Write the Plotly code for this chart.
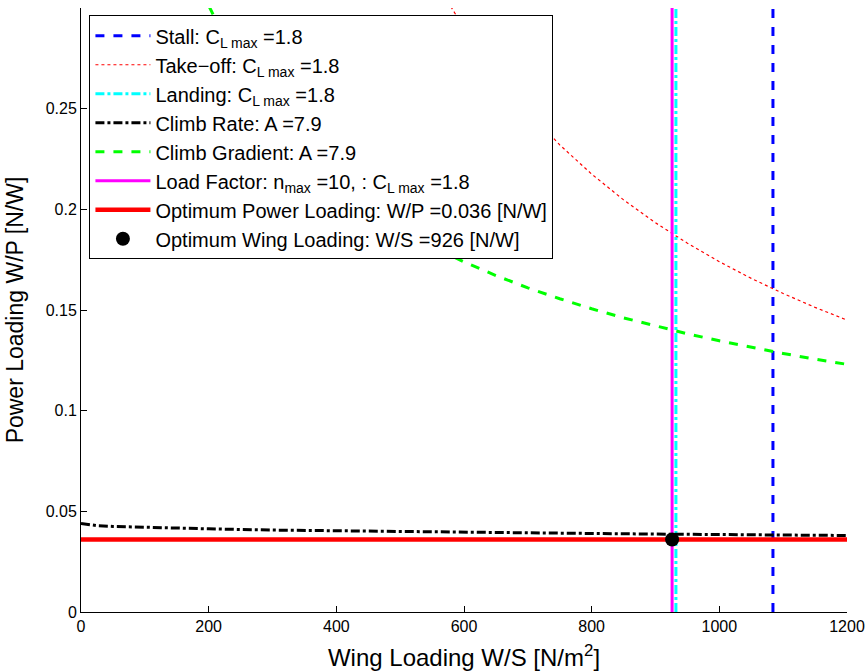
import plotly.graph_objects as go

# Data
ws_stall = 1084
ws_landing = 932
ws_loadfactor = 926
wp_opt = 0.036
ws_opt = 926
y_span = [0, 0.3]

takeoff_x = [550, 582, 600, 650, 700, 750, 800, 850, 900, 950, 1000, 1050, 1100, 1150, 1200]
takeoff_y = [0.316, 0.299, 0.290, 0.268, 0.249, 0.232, 0.2175, 0.2047, 0.1933, 0.1832, 0.174, 0.1657, 0.1582, 0.1513, 0.145]

climbgrad_x = [180, 200, 250, 300, 350, 400, 450, 500, 550, 600, 650, 700, 750, 800, 850, 900, 950, 1000, 1050, 1100, 1150, 1200]
climbgrad_y = [0.3175, 0.3012, 0.2694, 0.246, 0.2277, 0.213, 0.2008, 0.1905, 0.1816, 0.1739, 0.1671, 0.161, 0.1556, 0.1506, 0.1461, 0.142, 0.1382, 0.1347, 0.1315, 0.1284, 0.1256, 0.123]

climbrate_x = [0, 25, 50, 100, 200, 300, 400, 500, 600, 700, 800, 900, 1000, 1100, 1200]
climbrate_y = [0.0440, 0.0429, 0.0425, 0.0420, 0.0413, 0.0407, 0.0403, 0.0399, 0.0396, 0.0393, 0.0390, 0.0387, 0.0385, 0.0382, 0.0380]

opt_x = [0, 1200]

x_ticks = [0, 200, 400, 600, 800, 1000, 1200]
y_ticks = [0, 0.05, 0.1, 0.15, 0.2, 0.25]
y_tick_text = ["0", "0.05", "0.1", "0.15", "0.2", "0.25"]

FONT = "Liberation Sans, Arial, Helvetica, sans-serif"

fig = go.Figure()

fig.add_trace(go.Scatter(x=[ws_stall, ws_stall], y=y_span, mode="lines",
                         line=dict(color="#0000ff", width=3, dash="dash"),
                         name="Stall: C<sub>L max</sub> =1.8", legendrank=1))
fig.add_trace(go.Scatter(x=takeoff_x, y=takeoff_y, mode="lines",
                         line=dict(color="#ff0000", width=1.2, dash="dot"),
                         name="Take\u2212off: C<sub>L max</sub> =1.8", legendrank=2))
fig.add_trace(go.Scatter(x=[ws_landing, ws_landing], y=y_span, mode="lines",
                         line=dict(color="#00ffff", width=3, dash="dashdot"),
                         name="Landing: C<sub>L max</sub> =1.8", legendrank=3))
fig.add_trace(go.Scatter(x=climbrate_x, y=climbrate_y, mode="lines",
                         line=dict(color="#000000", width=3, dash="dashdot"),
                         name="Climb Rate: A =7.9", legendrank=4))
fig.add_trace(go.Scatter(x=climbgrad_x, y=climbgrad_y, mode="lines",
                         line=dict(color="#00ff00", width=3, dash="dash"),
                         name="Climb Gradient: A =7.9", legendrank=5))
fig.add_trace(go.Scatter(x=[ws_loadfactor, ws_loadfactor], y=y_span, mode="lines",
                         line=dict(color="#ff00ff", width=3),
                         name="Load Factor: n<sub>max</sub> =10, : C<sub>L max</sub> =1.8", legendrank=6))
fig.add_trace(go.Scatter(x=opt_x, y=[wp_opt, wp_opt], mode="lines",
                         line=dict(color="#ff0000", width=4.5),
                         name="Optimum Power Loading: W/P =0.036 [N/W]", legendrank=7))
fig.add_trace(go.Scatter(x=[ws_opt], y=[wp_opt], mode="markers",
                         marker=dict(color="#000000", size=14),
                         name="Optimum Wing Loading: W/S =926 [N/W]", legendrank=8))

fig.update_layout(
    width=865, height=671,
    margin=dict(l=81, r=18, t=8, b=59),
    paper_bgcolor="white", plot_bgcolor="white",
    font=dict(family=FONT, color="black", size=16),
    showlegend=True,
    legend=dict(x=0.011, y=0.988, xanchor="left", yanchor="top",
                bgcolor="white", bordercolor="black", borderwidth=1,
                font=dict(size=20, family=FONT), itemwidth=55,
                tracegroupgap=0),
)
fig.update_xaxes(range=[0, 1200], tickvals=x_ticks, automargin=False,
                 showline=True, linecolor="black", linewidth=1, mirror=False,
                 ticks="inside", ticklen=6, tickcolor="black", showgrid=False, zeroline=False,
                 tickfont=dict(size=16),
                 title=dict(text="Wing Loading W/S [N/m<sup>2</sup>]", font=dict(size=24)))
fig.update_yaxes(range=[0, 0.3], tickvals=y_ticks, ticktext=y_tick_text, automargin=False,
                 showline=True, linecolor="black", linewidth=1, mirror=False,
                 ticks="inside", ticklen=6, tickcolor="black", showgrid=False, zeroline=False,
                 tickfont=dict(size=16),
                 title=dict(text="Power Loading W/P [N/W]", font=dict(size=23)))

fig.write_html("out.html")
